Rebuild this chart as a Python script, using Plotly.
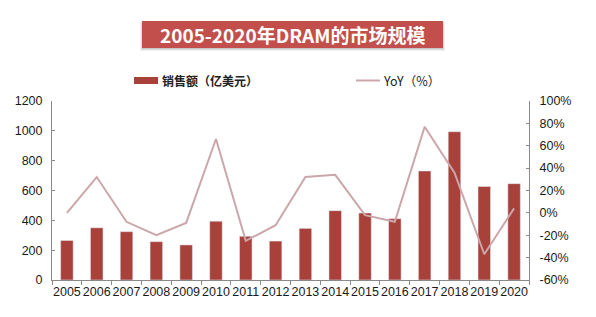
import plotly.graph_objects as go

years = [str(y) for y in range(2005, 2021)]
sales = [265, 350, 324, 257, 235, 394, 293, 261, 346, 465, 449, 411, 731, 994, 627, 646]
yoy = [0, 32, -8, -20, -9, 66, -25, -11, 32, 34, -2, -8, 77, 36, -37, 4]
left_ticks = [0, 200, 400, 600, 800, 1000, 1200]
right_ticks = [-60, -40, -20, 0, 20, 40, 60, 80, 100]
right_labels = [f"{v}%" for v in right_ticks]

L, R, T, B = 52, 67, 101, 37
W, H = 596, 317
pw, ph = W - L - R, H - T - B

def px(x):
    return (x - L) / pw

def py(y):
    return (H - B - y) / ph

fig = go.Figure()
fig.add_trace(go.Bar(x=years, y=sales, name="销售额（亿美元）", marker_color="#A9413B",
                     width=0.42, yaxis="y"))
fig.add_trace(go.Scatter(x=years, y=yoy, name="YoY（%）", mode="lines",
                         line=dict(color="#CBA6AA", width=2), yaxis="y2"))

axis_font = dict(family="Liberation Sans, Arial, sans-serif", size=12.5, color="#1a1a1a")
fig.update_layout(
    width=W, height=H, margin=dict(l=L, r=R, t=T, b=B),
    paper_bgcolor="white", plot_bgcolor="white", showlegend=False,
    xaxis=dict(showline=True, linecolor="#8a8a8a", linewidth=1, ticks="outside",
               tickson="boundaries", ticklen=4, tickcolor="#8a8a8a", tickfont=axis_font,
               showgrid=False, tickangle=0),
    yaxis=dict(range=[0, 1200], tickvals=left_ticks, showline=True, linecolor="#8a8a8a",
               showgrid=False, zeroline=False, tickfont=axis_font, ticks="inside",
               ticklen=3, tickcolor="#8a8a8a", ticklabelstandoff=6),
    yaxis2=dict(range=[-60, 100], tickvals=right_ticks, ticktext=right_labels, overlaying="y",
                side="right", showline=True, linecolor="#8a8a8a", showgrid=False,
                zeroline=False, tickfont=axis_font, ticks="inside", ticklen=3,
                tickcolor="#8a8a8a", ticklabelstandoff=7),
    bargap=0.5,
)

# Title box with soft shadow
x0, x1, y0, y1 = 142, 443, 21, 48
for i, a in enumerate([0.06, 0.08, 0.10]):
    d = 3 - i
    fig.add_shape(type="rect", xref="paper", yref="paper", x0=px(x0 - d + 1), x1=px(x1 + d - 1),
                  y0=py(y1 + d), y1=py(y0 + 1), fillcolor=f"rgba(0,0,0,{a})", line_width=0)
fig.add_shape(type="rect", xref="paper", yref="paper", x0=px(x0), x1=px(x1),
              y0=py(y1), y1=py(y0), fillcolor="#C24F4C", line_width=0)
fig.add_annotation(xref="paper", yref="paper", x=px((x0 + x1) / 2), y=py((y0 + y1) / 2),
                   text="<b>2005-2020年DRAM的市场规模</b>", showarrow=False,
                   font=dict(family="Noto Sans CJK SC", size=19, color="white"),
                   xanchor="center", yanchor="middle")

# Legend
fig.add_shape(type="rect", xref="paper", yref="paper", x0=px(134), x1=px(158),
              y0=py(84), y1=py(77), fillcolor="#A9413B", line_width=0)
fig.add_annotation(xref="paper", yref="paper", x=px(160), y=py(80.5), text="<b>销售额（亿美元）</b>",
                   showarrow=False, xanchor="left", yanchor="middle",
                   font=dict(family="Noto Sans CJK SC", size=12, color="#222"))
fig.add_shape(type="line", xref="paper", yref="paper", x0=px(356), x1=px(380),
              y0=py(80.5), y1=py(80.5), line=dict(color="#CBA6AA", width=2))
fig.add_annotation(xref="paper", yref="paper", x=px(381), y=py(80.5), text="YoY（%）",
                   showarrow=False, xanchor="left", yanchor="middle",
                   font=dict(family="Noto Sans CJK SC", size=12.5, color="#222"))

fig.write_html("out.html")
